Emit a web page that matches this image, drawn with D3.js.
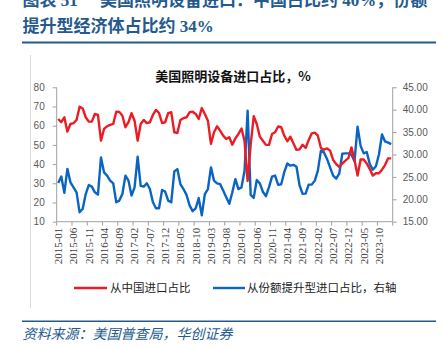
<!DOCTYPE html>
<html><head><meta charset="utf-8">
<script src="https://cdn.jsdelivr.net/npm/d3@7"></script>
<style>body{margin:0;background:#fff} svg{display:block}</style>
</head><body>
<svg id="c" width="446" height="349"></svg>
<script>
// ---- data ----
const startYear = 2015, monthCount = 110; // 2015-01 .. 2024-02
const months = [];
for (let k = 0; k < monthCount; k++) {
  const y = startYear + Math.floor(k / 12), m = k % 12 + 1;
  months.push(y + "-" + (m < 10 ? "0" + m : m));
}
// 从中国进口占比 (left axis, %)
const chinaShare = [
  63.5,61.8,64.4,56.9,60.9,61.3,63.0,69.9,69.0,64.4,62.1,62.1,
  66.1,65.6,52.2,58.3,59.7,60.4,60.9,67.3,67.2,65.2,59.2,61.8,
  66.5,62.6,52.2,60.9,63.0,61.3,61.8,65.6,68.2,66.6,61.4,61.8,
  66.5,67.0,56.6,56.2,63.0,63.9,64.4,67.0,67.3,66.1,63.5,69.2,
  66.1,62.6,50.5,56.6,59.7,57.4,54.8,53.1,54.0,50.1,53.4,55.7,
  58.5,52.0,31.2,50.0,64.9,60.9,54.3,52.2,50.0,50.0,55.7,56.6,
  59.6,59.2,54.8,51.9,54.3,50.8,47.4,47.7,50.1,48.4,52.6,56.0,
  56.4,54.8,48.4,47.5,48.2,47.0,42.2,40.0,38.5,40.3,41.8,43.1,
  48.7,42.1,34.0,42.4,42.4,40.3,37.4,34.0,35.2,35.2,37.1,39.5,
  43.0,43.0
];
// 从份额提升型进口占比 (right axis, %)
const upgradeShare = [
  23.66,25.07,21.43,26.79,23.79,22.67,21.56,17.10,17.83,21.17,23.19,22.84,
  21.56,21.04,29.36,26.01,25.29,24.17,23.57,19.33,19.71,21.17,25.29,24.17,
  20.83,22.67,29.53,23.01,22.84,23.57,22.29,19.33,18.00,18.00,22.07,21.73,
  19.71,19.33,26.23,26.74,23.40,22.29,21.00,18.64,17.36,18.00,20.27,16.41,
  21.17,22.29,27.13,24.17,23.57,23.40,21.94,20.44,18.99,21.56,24.51,22.29,
  22.67,26.36,39.77,21.00,20.31,24.30,23.57,21.69,20.70,22.71,25.07,25.29,
  23.23,23.36,26.06,27.99,27.51,27.69,27.26,23.14,21.21,21.26,23.27,23.27,
  24.17,26.40,30.86,30.47,29.01,27.13,25.29,24.60,25.71,30.17,30.26,30.26,
  29.96,28.50,36.21,31.93,30.26,30.56,27.86,26.61,27.39,30.00,34.46,32.91,
  32.66,32.31
];
const leftTicks = [10,20,30,40,50,60,70,80];
const rightTicks = [15,20,25,30,35,40,45];
const xTickLabels = ["2015-01","2015-06","2015-11","2016-04","2016-09","2017-02","2017-07",
  "2017-12","2018-05","2018-10","2019-03","2019-08","2020-01","2020-06","2020-11","2021-04",
  "2021-09","2022-02","2022-07","2022-12","2023-05","2023-10"];
const seriesNames = ["从中国进口占比","从份额提升型进口占比，右轴"];
const colors = ["#ec1c24","#0a64c4"];

// ---- layout ----
const svg = d3.select("#c");
const L = 56.7, R = 392.7, T = 87.3, B = 221.7;
const x = d3.scaleBand().domain(months).range([L, R]).padding(0);
const bw = x.bandwidth();
const yL = d3.scaleLinear().domain([10, 80]).range([B, T]);
const yR = d3.scaleLinear().domain([15, 45]).range([B, T]);
const navy = "#255a8e";
const cjk = "'Noto Sans CJK SC','Noto Sans',sans-serif";

// header
svg.append("text").attr("x", 22.5).attr("y", 6).attr("fill", navy)
  .attr("font-family", "'Liberation Serif'," + cjk).attr("font-weight", "bold").attr("font-size", 17)
  .text("图表 51");
svg.append("text").attr("x", 100).attr("y", 6).attr("fill", navy)
  .attr("font-family", "'Liberation Serif'," + cjk).attr("font-weight", "bold").attr("font-size", 17)
  .text("美国照明设备进口：中国占比约 40%，份额");
svg.append("text").attr("x", 22.5).attr("y", 32).attr("fill", navy)
  .attr("font-family", "'Liberation Serif'," + cjk).attr("font-weight", "bold").attr("font-size", 17)
  .text("提升型经济体占比约 34%");
svg.append("rect").attr("x", 22).attr("y", 41.5).attr("width", 414).attr("height", 2).attr("fill", navy);
svg.append("rect").attr("x", 22).attr("y", 320.5).attr("width", 414).attr("height", 1.5).attr("fill", navy);
svg.append("line").attr("x1", 30.5).attr("x2", 30.5).attr("y1", 55).attr("y2", 308)
  .attr("stroke", "#d9d9d9").attr("stroke-width", 1);

// chart title
svg.append("text").attr("x", 233).attr("y", 80.5).attr("text-anchor", "middle")
  .attr("font-family", cjk).attr("font-weight", "bold").attr("font-size", 13).attr("fill", "#111")
  .text("美国照明设备进口占比，%");

// axes
const axisColor = "#a0a0a0";
const gL = svg.append("g").attr("transform", `translate(${L},0)`)
  .call(d3.axisLeft(yL).tickValues(leftTicks).tickSize(4).tickPadding(8).tickFormat(d3.format("d")));
const gR = svg.append("g").attr("transform", `translate(${R},0)`)
  .call(d3.axisRight(yR).tickValues(rightTicks).tickSize(4).tickPadding(6).tickFormat(d3.format(".2f")));
[gL, gR].forEach(g => {
  g.selectAll("path,line").attr("stroke", axisColor);
  g.selectAll("text").attr("font-family", "'Liberation Sans',Arial,sans-serif")
    .attr("font-size", 10).attr("fill", "#595959");
});
gL.select(".domain").attr("d", `M0,${T}V${B}`);
gR.select(".domain").attr("d", `M0,${T}V${B}`);

// x axis
const gX = svg.append("g");
gX.append("line").attr("x1", L).attr("x2", R).attr("y1", B).attr("y2", B).attr("stroke", axisColor);
const tickIdx = xTickLabels.map(t => months.indexOf(t));
gX.selectAll("line.t").data(tickIdx.concat([-1])).join("line").attr("class", "t")
  .attr("x1", d => d < 0 ? R : x(months[d])).attr("x2", d => d < 0 ? R : x(months[d]))
  .attr("y1", B).attr("y2", B + 4).attr("stroke", axisColor);
gX.selectAll("text").data(xTickLabels).join("text")
  .attr("transform", d => `translate(${x(d) + bw / 2},${B + 6}) rotate(-90)`)
  .attr("text-anchor", "end").attr("dy", "0.35em")
  .attr("font-family", "'Liberation Serif','Times New Roman',serif").attr("font-size", 11)
  .attr("fill", "#404040").text(d => d);

// lines
const lineL = d3.line().x((d, i) => x(months[i]) + bw / 2).y(d => yL(d)).curve(d3.curveLinear);
const lineR = d3.line().x((d, i) => x(months[i]) + bw / 2).y(d => yR(d)).curve(d3.curveLinear);
svg.append("path").datum(upgradeShare).attr("d", lineR).attr("fill", "none")
  .attr("stroke", colors[1]).attr("stroke-width", 2.4).attr("stroke-linejoin", "round");
svg.append("path").datum(chinaShare).attr("d", lineL).attr("fill", "none")
  .attr("stroke", colors[0]).attr("stroke-width", 2.4).attr("stroke-linejoin", "round");

// legend
const legend = [
  {name: seriesNames[0], color: colors[0], x1: 74, x2: 107, tx: 110},
  {name: seriesNames[1], color: colors[1], x1: 213, x2: 245, tx: 247}
];
legend.forEach(l => {
  svg.append("line").attr("x1", l.x1).attr("x2", l.x2).attr("y1", 288).attr("y2", 288)
    .attr("stroke", l.color).attr("stroke-width", 2.4);
  svg.append("text").attr("x", l.tx).attr("y", 292).attr("font-family", cjk)
    .attr("font-size", 11.5).attr("fill", "#222").text(l.name);
});

// source
svg.append("text").attr("x", 22.5).attr("y", 338.5).attr("font-family", cjk)
  .attr("font-style", "italic").attr("font-size", 14).attr("fill", navy)
  .text("资料来源：美国普查局，华创证券");
</script>
</body></html>
